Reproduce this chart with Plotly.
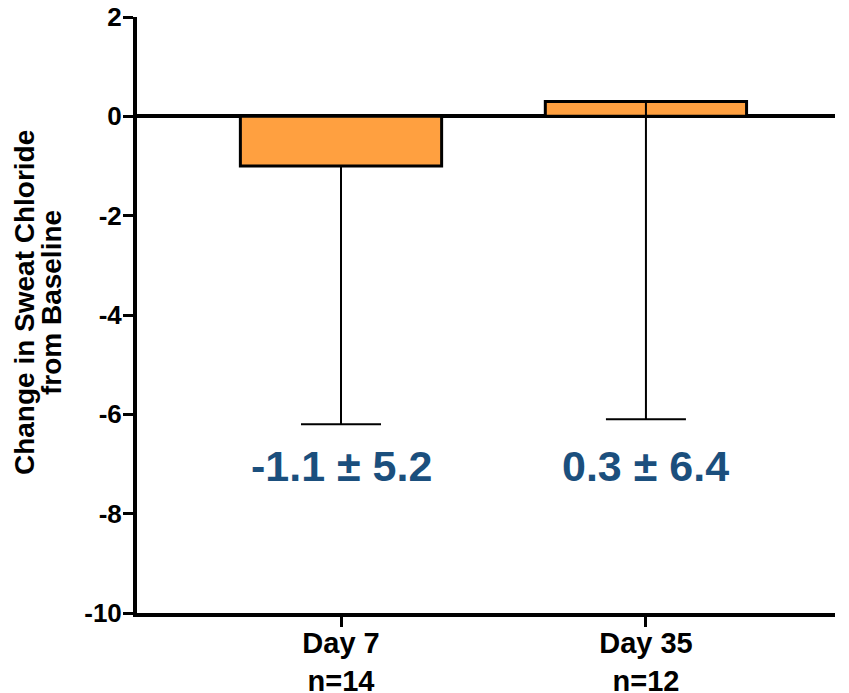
import plotly.graph_objects as go

categories = ["Day 7<br>n=14", "Day 35<br>n=12"]
means = [-1.0, 0.3]
sd_minus = [5.2, 6.4]
labels = ["-1.1 ± 5.2", "0.3 ± 6.4"]
label_y = [-7.05, -7.05]
y_ticks = [2, 0, -2, -4, -6, -8, -10]
y_ticktext = ["2", "0", "-2", "-4", "-6", "-8", "-10"]

FONT = "Liberation Sans, Arial, sans-serif"

fig = go.Figure()
fig.add_trace(go.Bar(
    x=categories, y=means, width=0.66,
    marker=dict(color="#FFA040", line=dict(color="black", width=3)),
    error_y=dict(type="data", symmetric=False, array=[0, 0], arrayminus=sd_minus,
                 color="black", thickness=2, width=40),
    showlegend=False,
))

for c, t, yy in zip(categories, labels, label_y):
    fig.add_annotation(x=c, y=yy, text=t, showarrow=False,
                       font=dict(family=FONT, size=43, color="#1b4f7d", weight="bold"))

fig.add_annotation(xref="paper", yref="paper", x=0, y=0.52, xshift=-113,
                   xanchor="center", yanchor="middle",
                   text="Change in Sweat Chloride", textangle=-90, showarrow=False,
                   font=dict(family=FONT, size=28, color="black", weight="bold"))
fig.add_annotation(xref="paper", yref="paper", x=0, y=0.52, xshift=-86,
                   xanchor="center", yanchor="middle",
                   text="from Baseline", textangle=-90, showarrow=False,
                   font=dict(family=FONT, size=28, color="black", weight="bold"))

fig.update_layout(
    width=849, height=693,
    margin=dict(l=137, r=14, t=17, b=80),
    paper_bgcolor="white", plot_bgcolor="white",
    font=dict(family=FONT, color="black"),
    xaxis=dict(range=[-0.669, 1.62], showline=True, linecolor="black", linewidth=4,
               ticks="outside", ticklen=10, tickwidth=3, tickcolor="black",
               showgrid=False, zeroline=False, automargin=False,
               ticklabelstandoff=-9,
               tickfont=dict(family=FONT, size=29, color="black", weight="bold")),
    yaxis=dict(range=[-10, 2], tickvals=y_ticks, ticktext=y_ticktext,
               showline=True, linecolor="black", linewidth=4,
               ticks="outside", ticklen=10, tickwidth=3, tickcolor="black",
               showgrid=False, zeroline=True, zerolinecolor="black", zerolinewidth=4,
               automargin=False, ticklabelstandoff=-4,
               tickfont=dict(family=FONT, size=26, color="black", weight="bold")),
)

fig.write_html("out.html", config={"displayModeBar": False},
               post_script="document.body.style.margin='0px';document.body.style.overflow='hidden';")
